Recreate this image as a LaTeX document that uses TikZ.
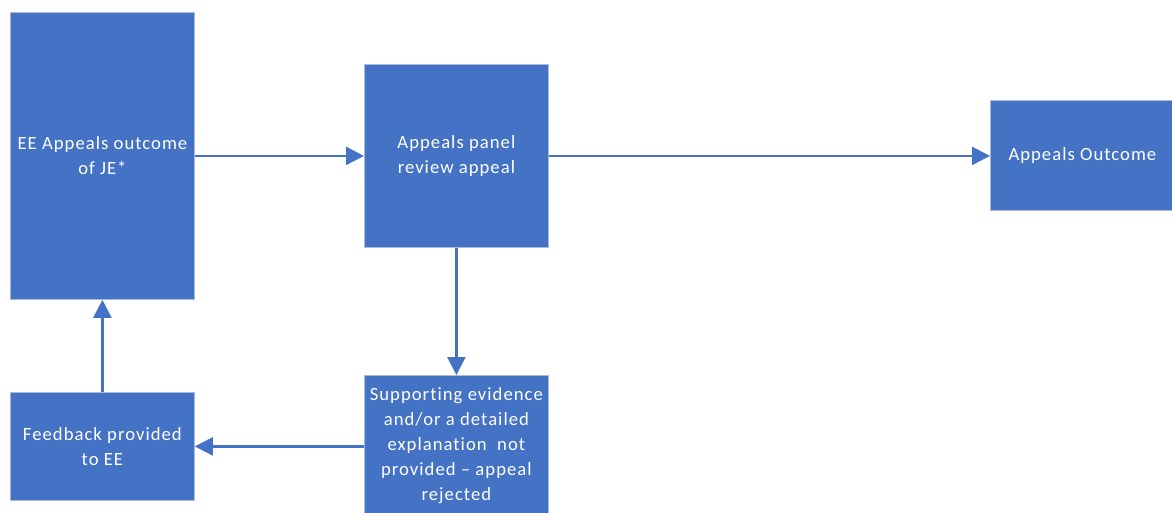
\documentclass[tikz,border=0pt]{standalone}
\usepackage{fontspec}
\setmainfont[Ligatures={NoCommon},LetterSpace=5.5]{Carlito}
\usetikzlibrary{arrows.meta}
\definecolor{boxblue}{HTML}{4472C4}
\definecolor{boxedge}{HTML}{A9B9D8}
\begin{document}
\begin{tikzpicture}[x=0.75pt,y=-0.75pt,
  box/.style={draw=boxedge,line width=0.6pt,fill=boxblue,text=white,align=center,
    inner sep=0pt,anchor=north west,font=\fontsize{14}{18.75}\selectfont},
  conn/.style={draw=boxblue,line width=1.7pt,-{Triangle[length=13.5pt,width=13.5pt]}}]
\useasboundingbox (0,0) rectangle (1172,512);
\node[box,minimum width=184*0.75pt,minimum height=287*0.75pt] (A) at (10,12) {EE Appeals outcome\\of JE*};
\node[box,minimum width=184*0.75pt,minimum height=183*0.75pt] (B) at (364,64) {Appeals panel\\review appeal};
\node[box,minimum width=184*0.75pt,minimum height=110*0.75pt] (C) at (990,100) {Appeals Outcome};
\node[box,minimum width=184*0.75pt,minimum height=140*0.75pt] (D) at (364,375) {Supporting evidence\\and/or a detailed\\explanation\ \ not\\provided -- appeal\\rejected};
\node[box,minimum width=184*0.75pt,minimum height=108*0.75pt] (E) at (10,392) {Feedback provided\\to EE};
\draw[conn] (A) -- (B);
\draw[conn] (B.east) -- (B.east -| C.west);
\draw[conn] (B) -- (D);
\draw[conn] (D.west |- E.east) -- (E.east);
\draw[conn] (E) -- (A);
\end{tikzpicture}
\end{document}
